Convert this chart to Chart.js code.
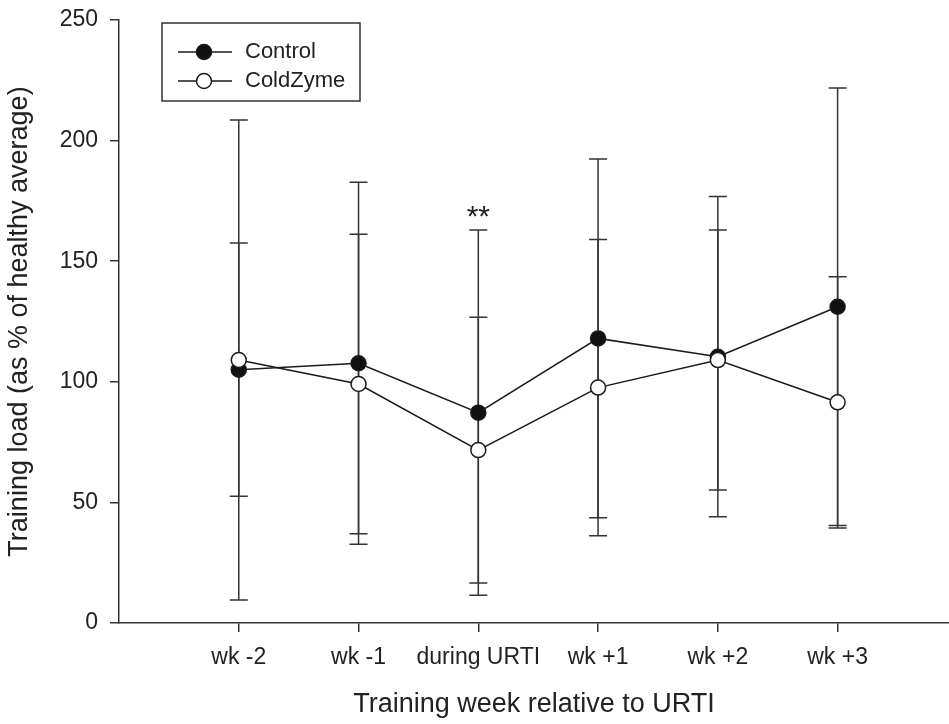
<!DOCTYPE html>
<html lang="en">
<head>
  <meta charset="UTF-8">
  <title>Training load</title>
  <script src="https://cdn.jsdelivr.net/npm/chart.js"></script>
  <style>
    html, body {
      margin: 0;
      padding: 0;
      background: #fff;
    }
    canvas {
      display: block;
    }
  </style>
</head>
<body>

<canvas id="loadChart" width="949" height="724"></canvas>

<script>
  // values (mean and SD)
  const categories = ['wk -2', 'wk -1', 'during URTI', 'wk +1', 'wk +2', 'wk +3'];
  const controlMean = [105, 107.7, 87.2, 118, 110.4, 131.1];
  const controlSD = [52.5, 75, 75.7, 74.4, 66.4, 90.7];
  const coldzymeMean = [109, 99.1, 71.7, 97.6, 109, 91.5];
  const coldzymeSD = [99.5, 62.1, 55.1, 61.4, 53.9, 52.1];
  const yTicks = [0, 50, 100, 150, 200, 250];
  const significance = ['', '', '**', '', '', ''];

  const FONT = '"Liberation Sans", Arial, sans-serif';
  const INK = '#222';

  const toPoints = arr => arr.map((v, i) => ({ x: i + 1, y: v }));

  // error bars under the markers
  const errorBars = {
    id: 'errorBars',
    beforeDatasetsDraw(chart) {
      const { ctx, scales: { x, y } } = chart;
      const sets = [[controlMean, controlSD], [coldzymeMean, coldzymeSD]];
      ctx.save();
      ctx.strokeStyle = '#333';
      ctx.lineWidth = 1.5;
      sets.forEach(([m, sd]) => {
        m.forEach((v, i) => {
          const px = x.getPixelForValue(i + 1);
          const top = y.getPixelForValue(v + sd[i]);
          const bot = y.getPixelForValue(v - sd[i]);
          ctx.beginPath();
          ctx.moveTo(px, top);
          ctx.lineTo(px, bot);
          ctx.moveTo(px - 9, top);
          ctx.lineTo(px + 9, top);
          ctx.moveTo(px - 9, bot);
          ctx.lineTo(px + 9, bot);
          ctx.stroke();
        });
      });
      ctx.restore();
    },
    afterDatasetsDraw(chart) {
      const { ctx, scales: { x, y } } = chart;
      ctx.save();
      ctx.fillStyle = INK;
      ctx.font = '30px ' + FONT;
      ctx.textAlign = 'center';
      ctx.textBaseline = 'alphabetic';
      significance.forEach((s, i) => {
        if (!s) return;
        const top = Math.max(controlMean[i] + controlSD[i], coldzymeMean[i] + coldzymeSD[i]);
        ctx.fillText(s, x.getPixelForValue(i + 1), y.getPixelForValue(top) - 4);
      });
      ctx.restore();
    }
  };

  // boxed legend, line through marker
  const boxLegend = {
    id: 'boxLegend',
    afterDraw(chart) {
      const ctx = chart.ctx;
      const sets = chart.data.datasets;
      ctx.save();
      ctx.strokeStyle = '#333';
      ctx.lineWidth = 1.5;
      ctx.strokeRect(162, 23, 198, 78);
      sets.forEach((ds, k) => {
        const cy = 52 + k * 29;
        ctx.beginPath();
        ctx.strokeStyle = '#1a1a1a';
        ctx.moveTo(178, cy);
        ctx.lineTo(232, cy);
        ctx.stroke();
        ctx.beginPath();
        ctx.arc(204, cy, 7.5, 0, Math.PI * 2);
        ctx.fillStyle = ds.pointBackgroundColor;
        ctx.fill();
        ctx.stroke();
        ctx.fillStyle = INK;
        ctx.font = '22px ' + FONT;
        ctx.textBaseline = 'middle';
        ctx.fillText(ds.label, 245, cy);
      });
      ctx.restore();
    }
  };

  const ctx = document.getElementById('loadChart').getContext('2d');
  const chart = new Chart(ctx, {
    type: 'line',
    data: {
      datasets: [{
        label: 'Control',
        data: toPoints(controlMean),
        borderColor: '#1a1a1a',
        borderWidth: 1.5,
        pointRadius: 7.5,
        pointBorderWidth: 1.5,
        pointBorderColor: '#1a1a1a',
        pointBackgroundColor: '#111',
        tension: 0,
        order: 2
      }, {
        label: 'ColdZyme',
        data: toPoints(coldzymeMean),
        borderColor: '#1a1a1a',
        borderWidth: 1.5,
        pointRadius: 7.5,
        pointBorderWidth: 1.5,
        pointBorderColor: '#1a1a1a',
        pointBackgroundColor: '#fff',
        tension: 0,
        order: 1
      }]
    },
    options: {
      responsive: false,
      animation: false,
      layout: { autoPadding: false, padding: { top: 20, left: 0, right: 0, bottom: 0 } },
      plugins: {
        legend: { display: false },
        tooltip: { enabled: false }
      },
      scales: {
        x: {
          type: 'linear',
          min: 0,
          max: 6.93,
          afterBuildTicks: s => { s.ticks = categories.map((c, i) => ({ value: i + 1 })); },
          afterFit: s => { s.height = 101; s.paddingLeft = 0; s.paddingRight = 0; },
          ticks: {
            callback: v => categories[v - 1],
            font: { family: FONT, size: 23 },
            color: INK,
            padding: 12,
            autoSkip: false,
            maxRotation: 0
          },
          grid: { drawOnChartArea: false, drawTicks: true, tickLength: 9, color: '#333', lineWidth: 1.5 },
          border: { color: '#333', width: 1.5 },
          title: {
            display: true,
            text: 'Training week relative to URTI',
            font: { family: FONT, size: 27 },
            color: INK,
            padding: { top: 0, bottom: 3 }
          }
        },
        y: {
          min: 0,
          max: 250,
          afterBuildTicks: s => { s.ticks = yTicks.map(v => ({ value: v })); },
          afterFit: s => { s.width = 119; s.paddingTop = 0; s.paddingBottom = 0; },
          ticks: {
            font: { family: FONT, size: 23 },
            color: INK,
            padding: 12
          },
          grid: { drawOnChartArea: false, drawTicks: true, tickLength: 9, color: '#333', lineWidth: 1.5 },
          border: { color: '#333', width: 1.5 },
          title: {
            display: true,
            text: 'Training load (as % of healthy average)',
            font: { family: FONT, size: 27 },
            color: INK,
            padding: { top: 3, bottom: 0 }
          }
        }
      }
    },
    plugins: [errorBars, boxLegend]
  });
</script>

</body>
</html>
